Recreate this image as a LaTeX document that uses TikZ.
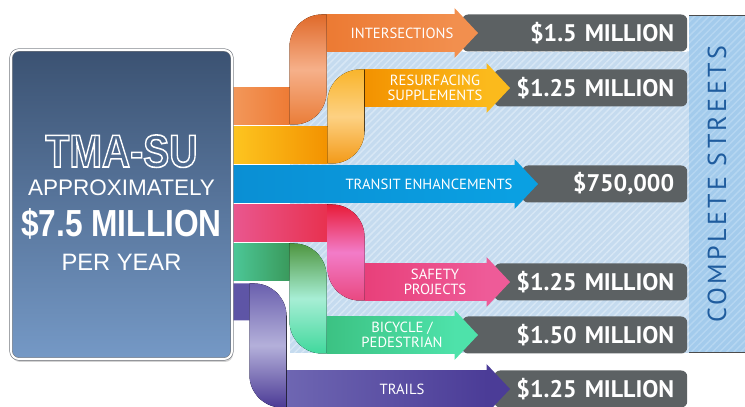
\documentclass[tikz,border=0pt]{standalone}
\usepackage{fontspec}
\setmainfont{PT Sans}
\newfontfamily\boxfont{Liberation Sans}
\usepackage{graphicx}
\usetikzlibrary{shadows,patterns.meta}

\definecolor{boxtop}{HTML}{3B5272}
\definecolor{boxbot}{HTML}{7599C6}
\definecolor{panel}{HTML}{C5DBEF}
\definecolor{panelln}{HTML}{D7E7F5}
\definecolor{column}{HTML}{A3CBEC}
\definecolor{columnln}{HTML}{B5D6F1}
\definecolor{streets}{HTML}{1F5C9E}
\definecolor{valgray}{HTML}{5C6163}
\definecolor{orng}{HTML}{F0843E}
\definecolor{yllw}{HTML}{F8A51B}
\definecolor{blu}{HTML}{0996D9}
\definecolor{pnk}{HTML}{EA4C86}
\definecolor{grn}{HTML}{45CB90}
\definecolor{prpl}{HTML}{5E55A6}

\pgfdeclarelayer{back}
\pgfdeclarelayer{mid}
\pgfsetlayers{back,mid,main}

\tikzset{
  tmabox/.style={rounded corners=8pt, top color=boxtop, bottom color=boxbot,
    draw=gray!80!boxtop, double=white, double distance=2pt, line width=.6pt,
    minimum width=221pt, minimum height=309pt,
    drop shadow={shadow xshift=1pt, shadow yshift=-3pt, opacity=.35}},
  valbox/.style={fill=valgray, rounded corners=6pt, minimum height=37pt,
    inner xsep=13pt, inner ysep=2pt, align=right, text=white,
    font=\fontsize{24}{24}\selectfont\bfseries},
  ribbon/.style={draw=#1, line width=37pt, rounded corners=14pt},
  lbl/.style={text=white, align=center, font=\fontsize{14.7}{14.5}\selectfont},
  boxtxt/.style={anchor=base, text=white}
}

% hollow letters
\newcommand\hollow[1]{\special{pdf:literal direct 1 Tr 1.6 w}#1\special{pdf:literal direct 0 Tr}}
\newcommand\band[5]{\definecolor{bl}{HTML}{#4}\definecolor{br}{HTML}{#5}%
  \fill[left color=bl, right color=br] (#1,#3-18.5) rectangle (#2,#3+18.5);}
\newcommand\foldup[6]{\definecolor{ft}{HTML}{#4}\definecolor{fm}{HTML}{#5}\definecolor{fb}{HTML}{#6}%
  \fill[top color=ft, bottom color=fb, middle color=fm]
    (#1-18.5,#2-18.5) -- (#1-18.5,#3-14) arc[start angle=180, end angle=90, radius=32.5pt]
    -- (#1+18.5,#3+18.5) -- (#1+18.5,#2+14) arc[start angle=0, end angle=-90, radius=32.5pt]
    -- cycle;}
\newcommand\folddown[6]{\definecolor{ft}{HTML}{#4}\definecolor{fm}{HTML}{#5}\definecolor{fb}{HTML}{#6}%
  \fill[top color=ft, bottom color=fb, middle color=fm]
    (#1-18.5,#2+18.5) -- (#1-14,#2+18.5) arc[start angle=90, end angle=0, radius=32.5pt]
    -- (#1+18.5,#3-18.5) -- (#1+14,#3-18.5) arc[start angle=270, end angle=180, radius=32.5pt]
    -- cycle;}
\newcommand\head[2]{\definecolor{hd}{HTML}{#2}%
  \fill[hd] ([xshift=-7.5pt]#1.west) ++(0,25) -- ++(23.5,-25) -- ++(-23.5,-25) -- cycle;}

\begin{document}
\begin{tikzpicture}[x=1pt,y=1pt]
\useasboundingbox (0,0) rectangle (745,407);

\node (tma) [tmabox] at (121.5,202.5) {};
\node (n1) [boxtxt, font=\fontsize{46}{46}\boxfont\bfseries] at (121.5,240)
  {\scalebox{0.85}[1]{\hollow{TMA-SU}}};
\node (n2) [boxtxt, font=\fontsize{22.5}{22.5}\boxfont] at (121.5,211) {APPROXIMATELY};
\node (n3) [boxtxt, font=\fontsize{37.7}{37.7}\boxfont\bfseries] at (121.5,170)
  {\scalebox{0.84}[1]{\$7.5 MILLION}};
\node (n4) [boxtxt, font=\fontsize{23.7}{23.7}\boxfont] at (121.5,136) {PER YEAR};

\begin{pgfonlayer}{back}
  \fill[panel] (290,54) rectangle (689,355);
  \fill[pattern={Lines[angle=45,distance=5pt,line width=1.5pt]}, pattern color=panelln]
    (290,54) rectangle (689,355);
  \fill[column] (689,54) rectangle (745,391);
  \fill[pattern={Lines[angle=45,distance=5pt,line width=1.5pt]}, pattern color=columnln]
    (689,54) rectangle (745,391);
  \draw[gray!60!black, line width=1pt] (689,391) -- (745,391) (689,54) -- (745,54);
  \node (cs) [rotate=90, text=streets, font=\fontsize{26}{26}\selectfont\addfontfeatures{LetterSpace=13}]
    at (717,222.5) {COMPLETE STREETS};

  \node (v1) [valbox, text width=199pt, anchor=west] at (462,374) {\$1.5 MILLION};
  \node (v2) [valbox, text width=167pt, anchor=west] at (494,319) {\$1.25 MILLION};
  \node (v3) [valbox, text width=139pt, anchor=west] at (522,223) {\$750,000};
  \node (v4) [valbox, text width=167pt, anchor=west] at (494,125) {\$1.25 MILLION};
  \node (v5) [valbox, text width=199pt, anchor=west] at (462,72) {\$1.50 MILLION};
  \node (v6) [valbox, text width=167pt, anchor=west] at (494,18) {\$1.25 MILLION};
\end{pgfonlayer}

\begin{pgfonlayer}{mid}
  \draw[ribbon=orng] (tma.east |- 0,301) -| (308,374) -- ([xshift=-7pt]v1.west);
  \band{233}{289.5}{301}{F2975A}{EE7B35}
  \band{326.5}{455}{374}{EC7A33}{F28F4E}
  \foldup{308}{301}{374}{E06A2A}{F6B08A}{EA7D38}
  \head{v1}{F28F4E}

  \draw[ribbon=yllw] (tma.east |- 0,262) -| (346,319) -- ([xshift=-7pt]v2.west);
  \band{233}{327.5}{262}{FDC520}{F39200}
  \band{364.5}{487}{319}{F39200}{FBBA1C}
  \foldup{346}{262}{319}{F9B52C}{FDD183}{F39A18}
  \head{v2}{FBBA1C}

  \draw[ribbon=blu] (tma.east |- 0,223) -- ([xshift=-7pt]v3.west);
  \band{233}{515}{223}{0A8FD4}{0AA0E2}
  \head{v3}{0AA0E2}

  \draw[ribbon=pnk] (tma.east |- 0,184) -| (346,125) -- ([xshift=-7pt]v4.west);
  \band{233}{327.5}{184}{E9578F}{E8314F}
  \band{364.5}{487}{125}{E8407A}{EE5B98}
  \folddown{346}{184}{125}{E81C38}{F27CC8}{E94880}
  \head{v4}{EE5B98}

  \draw[ribbon=grn] (tma.east |- 0,145) -| (308,72) -- ([xshift=-7pt]v5.west);
  \band{233}{289.5}{145}{4CC797}{3A9A5C}
  \band{326.5}{455}{72}{3CC283}{4EE2AA}
  \folddown{308}{145}{72}{4F9640}{A7EED5}{40D89C}
  \head{v5}{4EE2AA}

  \draw[ribbon=prpl] (tma.east |- 0,105) -| (268,18) -- ([xshift=-7pt]v6.west);
  \band{286.5}{487}{18}{6E66B2}{4B3C97}
  \folddown{268}{105}{18}{6A60AE}{B4B0DA}{4B3A95}
  \head{v6}{4B3C97}
\end{pgfonlayer}

\node (l1) [lbl] at (402,374) {INTERSECTIONS};
\node (l2) [lbl] at (435,319) {RESURFACING\\SUPPLEMENTS};
\node (l3) [lbl] at (429,223) {TRANSIT ENHANCEMENTS};
\node (l4) [lbl] at (435,125) {SAFETY\\PROJECTS};
\node (l5) [lbl] at (402,72) {BICYCLE /\\PEDESTRIAN};
\node (l6) [lbl] at (402,18) {TRAILS};
\end{tikzpicture}
\end{document}
